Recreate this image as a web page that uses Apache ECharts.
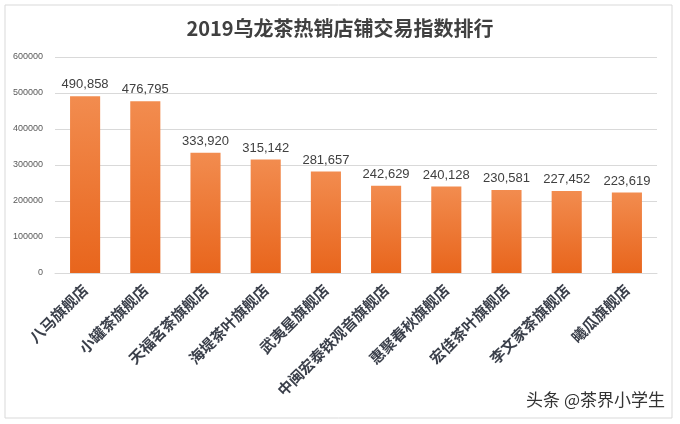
<!DOCTYPE html>
<html><head><meta charset="utf-8">
<script src="https://cdn.jsdelivr.net/npm/echarts@6/dist/echarts.min.js"></script>
<style>html,body{margin:0;padding:0;background:#fff}#c{width:680px;height:424px}</style>
</head><body><div id="c"></div>
<script>
const categories = ['八马旗舰店','小罐茶旗舰店','天福茗茶旗舰店','海堤茶叶旗舰店','武夷星旗舰店','中闽宏泰铁观音旗舰店','惠聚春秋旗舰店','宏佳茶叶旗舰店','李文家茶旗舰店','曦瓜旗舰店'];
const values = [490858,476795,333920,315142,281657,242629,240128,230581,227452,223619];
const yTicks = [0,100000,200000,300000,400000,500000,600000];
const chart = echarts.init(document.getElementById('c'));
chart.setOption({
  animation:false,
  backgroundColor:'#fff',
  graphic:[
    {type:'rect',shape:{x:5,y:5,width:667,height:413},style:{fill:'none',stroke:'#d9d9d9',lineWidth:1}},
    {type:'text',right:15,bottom:16,style:{text:'头条 @茶界小学生',fill:'#333',font:'17px "Noto Sans CJK SC"'}}
  ],
  title:{text:'2019乌龙茶热销店铺交易指数排行',left:'center',top:13,textStyle:{fontSize:20,fontWeight:'bold',color:'#404040',fontFamily:'"Noto Sans CJK SC"'}},
  grid:{left:55,right:23,top:57,bottom:151,containLabel:false},
  xAxis:{type:'category',data:categories,axisTick:{show:false},axisLine:{lineStyle:{color:'#d9d9d9'}},
    axisLabel:{rotate:45,interval:0,fontSize:15,fontWeight:'bold',color:'#3a3f4a',fontFamily:'"Noto Sans CJK SC"',margin:14}},
  yAxis:{type:'value',min:0,max:600000,interval:100000,axisLine:{show:false},axisTick:{show:false},
    axisLabel:{fontSize:9,color:'#595959',margin:12,formatter:v=>yTicks.includes(v)?String(v):''},
    splitLine:{lineStyle:{color:'#d9d9d9'}}},
  series:[{type:'bar',data:values,barWidth:'50%',
    itemStyle:{color:new echarts.graphic.LinearGradient(0,0,0,1,[{offset:0,color:'#F28C4F'},{offset:1,color:'#E8651C'}])},
    label:{show:true,position:'top',distance:5,fontSize:13,color:'#404040',formatter:p=>p.value.toLocaleString('en-US')}}]
});
</script></body></html>
